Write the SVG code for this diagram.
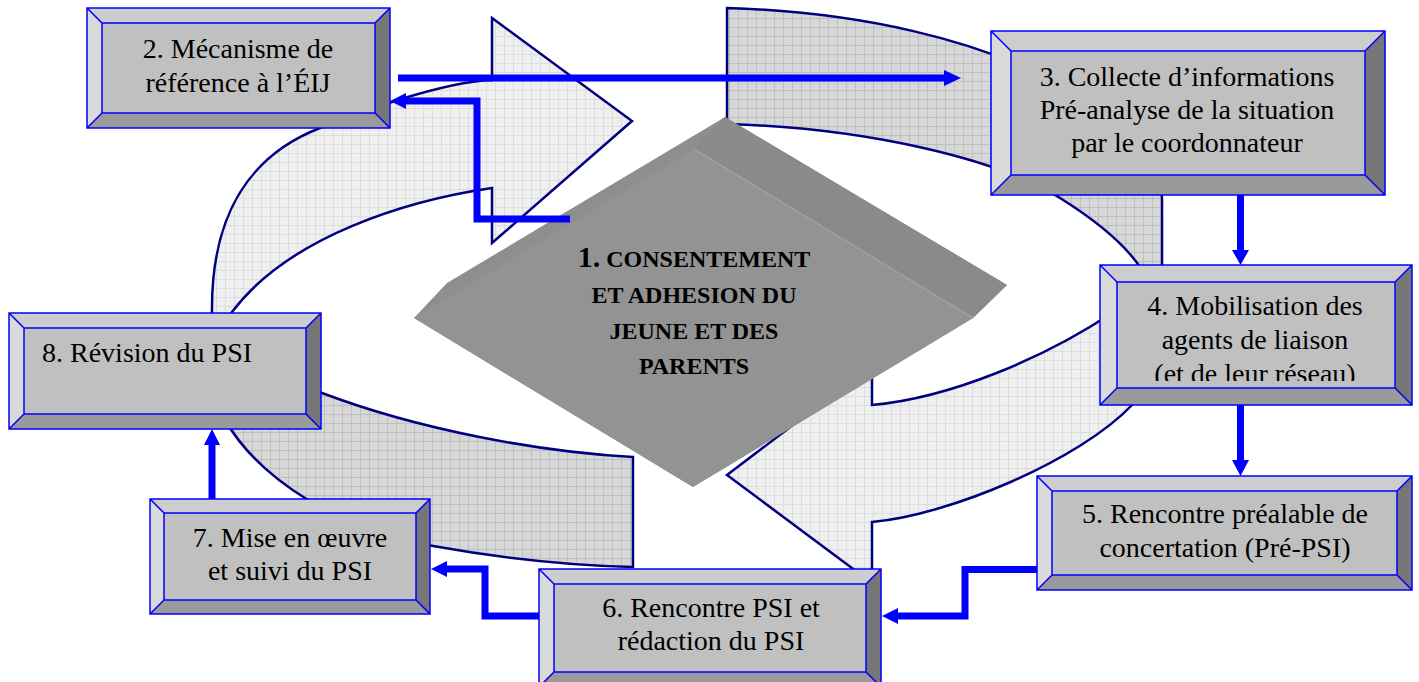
<svg xmlns="http://www.w3.org/2000/svg" width="1419" height="682" viewBox="0 0 1419 682">
<defs>
<pattern id="pl" width="9" height="9" patternUnits="userSpaceOnUse"><rect width="9" height="9" fill="#efefef"/><path d="M0 .5H9M.5 0V9" stroke="#dddddd" stroke-width="1"/></pattern>
<pattern id="pd" width="9" height="9" patternUnits="userSpaceOnUse"><rect width="9" height="9" fill="#d7d7d7"/><path d="M0 .5H9M.5 0V9" stroke="#bfbfbf" stroke-width="1"/></pattern>
<clipPath id="clip4"><rect x="1117" y="282" width="278" height="99"/></clipPath>
</defs>
<style>
.ring{stroke:#000080;stroke-width:2.5;stroke-linejoin:miter}
.lt{fill:url(#pl)}
.dk{fill:url(#pd)}
.bt{fill:#cdcdcd}
.bl{fill:#dadada}
.br{fill:#767676}
.bb{fill:#9a9a9a}
.fc{fill:#c0c0c0}
.ed{fill:none;stroke:#0000ff;stroke-width:1.5}
.tx{font-family:"Liberation Serif","Times New Roman",serif;font-size:28px;fill:#000;text-anchor:middle}
.cn{fill:none;stroke:#0000ff;stroke-width:7}
.ah{fill:#0000ff}
.dt{font-family:"Liberation Serif","Times New Roman",serif;font-weight:bold;font-size:24px;text-anchor:middle;fill:#000}
</style>
<rect width="1419" height="682" fill="#ffffff"/>
<g id="cycle">
<path class="ring lt" d="M212,318 L212,312 C211,215 250,155 320,128 C355,114 440,82 492,80 L492,18 L632,121 L492,243 L492,188 C410,200 290,235 232,312 L228,318 Z"/>
<path class="ring dk" d="M727,8 C860,12 980,40 1060,85 C1130,125 1162,160 1162,200 L1162,330 L1150,330 L1142,270 C1128,248 1100,223 1060,198 C1000,160 870,128 727,124 Z"/>
<path class="ring lt" d="M1115,311 C1045,358 950,398 872,405 L872,365 L727,475 L872,583 L872,522 C950,515 1080,460 1132,405 L1160,370 L1160,311 Z"/>
<path class="ring dk" d="M633,457 C540,452 420,430 322,393 L305,387 L225,420 C260,480 340,530 433,546 C500,558 560,565 633,567 Z"/>
</g>
<g id="n1">
<polygon points="725,117 1007,285 973,318 693,487 414,318 447,283" fill="#8e8e8e"/>
<polygon points="725,117 1007,285 973,318 694,149" fill="#8a8a8a"/>
<polygon points="694,149 973,318 693,487 414,318" fill="#939393"/>
<path d="M694,149 L973,318" stroke="#a0a0a0" stroke-width="1.5"/>
<text class="dt" x="694" y="267"><tspan font-size="30">1.</tspan> CONSENTEMENT</text>
<text class="dt" x="694" y="303">ET ADHESION DU</text>
<text class="dt" x="694" y="339">JEUNE ET DES</text>
<text class="dt" x="694" y="374">PARENTS</text>
</g>
<g id="connectors">
<path class="cn" d="M398 78H946"/><polygon class="ah" points="944,70 961,78 944,86"/>
<path class="cn" d="M570 219H477V101H404"/><polygon class="ah" points="406,93 390,101 406,109"/>
<path class="cn" d="M1240.5 195V252"/><polygon class="ah" points="1232,250 1240.5,265 1249,250"/>
<path class="cn" d="M1240.5 405V462"/><polygon class="ah" points="1232,460 1240.5,476 1249,460"/>
<path class="cn" d="M1037 569.5H965V616H896"/><polygon class="ah" points="898,608 882,616 898,624"/>
<path class="cn" d="M539 616H485V569H445"/><polygon class="ah" points="447,561 431,569 447,577"/>
<path class="cn" d="M212 499V443"/><polygon class="ah" points="204,445 212,429 220,445"/>
</g>
<g id="n2">
<polygon class="bt" points="87,8 390,8 375,23 102,23"/>
<polygon class="bl" points="87,8 102,23 102,113 87,128"/>
<polygon class="br" points="390,8 390,128 375,113 375,23"/>
<polygon class="bb" points="87,128 390,128 375,113 102,113"/>
<rect class="fc" x="102" y="23" width="273" height="90"/>
<path class="ed" d="M87 8H390V128H87ZM102 23H375V113H102ZM87 8L102 23M390 8L375 23M390 128L375 113M87 128L102 113"/>
<text class="tx" x="238" y="58">2. Mécanisme de</text>
<text class="tx" x="238" y="92">référence à l’ÉIJ</text>
</g>
<g id="n3">
<polygon class="bt" points="991,31 1385,31 1365,51 1011,51"/>
<polygon class="bl" points="991,31 1011,51 1011,175 991,195"/>
<polygon class="br" points="1385,31 1385,195 1365,175 1365,51"/>
<polygon class="bb" points="991,195 1385,195 1365,175 1011,175"/>
<rect class="fc" x="1011" y="51" width="354" height="124"/>
<path class="ed" d="M991 31H1385V195H991ZM1011 51H1365V175H1011ZM991 31L1011 51M1385 31L1365 51M1385 195L1365 175M991 195L1011 175"/>
<text class="tx" x="1187" y="86">3. Collecte d’informations</text>
<text class="tx" x="1187" y="119">Pré-analyse de la situation</text>
<text class="tx" x="1187" y="152">par le coordonnateur</text>
</g>
<g id="n4">
<polygon class="bt" points="1100,265 1412,265 1395,282 1117,282"/>
<polygon class="bl" points="1100,265 1117,282 1117,388 1100,405"/>
<polygon class="br" points="1412,265 1412,405 1395,388 1395,282"/>
<polygon class="bb" points="1100,405 1412,405 1395,388 1117,388"/>
<rect class="fc" x="1117" y="282" width="278" height="106"/>
<path class="ed" d="M1100 265H1412V405H1100ZM1117 282H1395V388H1117ZM1100 265L1117 282M1412 265L1395 282M1412 405L1395 388M1100 405L1117 388"/>
<g clip-path="url(#clip4)">
<text class="tx" x="1255" y="315">4. Mobilisation des</text>
<text class="tx" x="1255" y="349">agents de liaison</text>
<text class="tx" x="1255" y="383">(et de leur réseau)</text>
</g>
</g>
<g id="n5">
<polygon class="bt" points="1037,476 1412,476 1397,491 1052,491"/>
<polygon class="bl" points="1037,476 1052,491 1052,575 1037,590"/>
<polygon class="br" points="1412,476 1412,590 1397,575 1397,491"/>
<polygon class="bb" points="1037,590 1412,590 1397,575 1052,575"/>
<rect class="fc" x="1052" y="491" width="345" height="84"/>
<path class="ed" d="M1037 476H1412V590H1037ZM1052 491H1397V575H1052ZM1037 476L1052 491M1412 476L1397 491M1412 590L1397 575M1037 590L1052 575"/>
<text class="tx" x="1225" y="523">5. Rencontre préalable de</text>
<text class="tx" x="1225" y="557">concertation (Pré-PSI)</text>
</g>
<g id="n6">
<polygon class="bt" points="539,569 881,569 866,584 554,584"/>
<polygon class="bl" points="539,569 554,584 554,672 539,687"/>
<polygon class="br" points="881,569 881,687 866,672 866,584"/>
<polygon class="bb" points="539,687 881,687 866,672 554,672"/>
<rect class="fc" x="554" y="584" width="312" height="88"/>
<path class="ed" d="M539 569H881V687H539ZM554 584H866V672H554ZM539 569L554 584M881 569L866 584M881 687L866 672M539 687L554 672"/>
<text class="tx" x="711" y="617">6. Rencontre PSI et</text>
<text class="tx" x="711" y="650">rédaction du PSI</text>
</g>
<g id="n7">
<polygon class="bt" points="150,499 430,499 416,513 164,513"/>
<polygon class="bl" points="150,499 164,513 164,600 150,614"/>
<polygon class="br" points="430,499 430,614 416,600 416,513"/>
<polygon class="bb" points="150,614 430,614 416,600 164,600"/>
<rect class="fc" x="164" y="513" width="252" height="87"/>
<path class="ed" d="M150 499H430V614H150ZM164 513H416V600H164ZM150 499L164 513M430 499L416 513M430 614L416 600M150 614L164 600"/>
<text class="tx" x="290" y="547">7. Mise en œuvre</text>
<text class="tx" x="290" y="580">et suivi du PSI</text>
</g>
<g id="n8">
<polygon class="bt" points="9,313 321,313 306,328 24,328"/>
<polygon class="bl" points="9,313 24,328 24,414 9,429"/>
<polygon class="br" points="321,313 321,429 306,414 306,328"/>
<polygon class="bb" points="9,429 321,429 306,414 24,414"/>
<rect class="fc" x="24" y="328" width="282" height="86"/>
<path class="ed" d="M9 313H321V429H9ZM24 328H306V414H24ZM9 313L24 328M321 313L306 328M321 429L306 414M9 429L24 414"/>
<text class="tx" x="42" y="362" style="text-anchor:start">8. Révision du PSI</text>
</g>
</svg>
